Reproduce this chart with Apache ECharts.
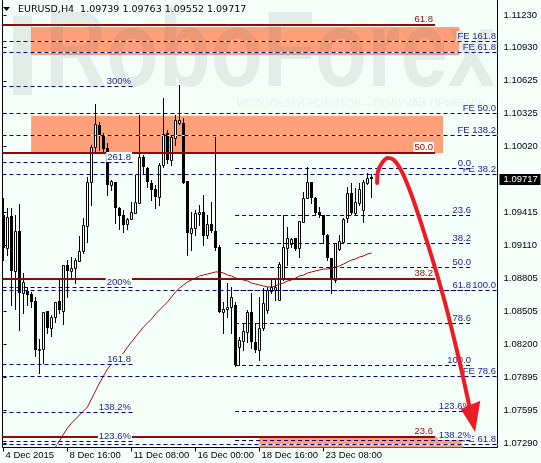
<!DOCTYPE html>
<html><head><meta charset="utf-8">
<script src="https://cdn.jsdelivr.net/npm/echarts@6/dist/echarts.min.js"></script>
<style>html,body{margin:0;padding:0;background:#F5FFFA;}#c{width:541px;height:463px;}</style>
</head><body><div id="c"></div>
<script>
// ---------- data ----------
const symbolName = 'EURUSD,H4';
const headerQuote = [1.09739, 1.09763, 1.09552, 1.09717]; // O H L C of last bar
const lastPrice = 1.09717;

const opens = [1.09390,1.09086,1.09381,1.08875,1.09243,1.08672,1.08691,1.08663,1.08599,1.08148,
1.08157,1.08507,1.08350,1.08452,1.08599,1.08507,1.08930,1.08875,1.08902,1.08967,
1.09059,1.09289,1.09694,1.10016,1.10218,1.10126,1.10006,1.09666,1.09694,1.09454,
1.09390,1.09307,1.09353,1.09408,1.09500,1.09924,1.09822,1.09684,1.09629,1.09556,
1.09850,1.10144,1.09896,1.10098,1.10236,1.10236,1.09703,1.09224,1.09270,1.09399,
1.09418,1.09206,1.09307,1.09243,1.09096,1.08498,1.08525,1.08544,1.08562,1.08176,
1.08231,1.08314,1.08498,1.08222,1.08148,1.08350,1.08516,1.08691,1.08700,1.08608,
1.08810,1.09086,1.09123,1.09178,1.09086,1.09326,1.09546,1.09694,1.09546,1.09418,
1.09390,1.09206,1.08994,1.08792,1.09077,1.09142,1.09362,1.09592,1.09408,1.09500,
1.09436,1.09684,1.09739];
const highs = [1.09546,1.09454,1.09454,1.09390,1.09491,1.08856,1.08728,1.08682,1.08636,1.08249,
1.08498,1.08507,1.08470,1.08590,1.08810,1.08930,1.08976,1.09004,1.08994,1.09197,
1.09362,1.09740,1.10034,1.10411,1.10246,1.10144,1.10052,1.09712,1.09694,1.09464,
1.09436,1.09362,1.09510,1.09758,1.10310,1.09942,1.09832,1.09712,1.09666,1.09868,
1.10466,1.10172,1.10126,1.10310,1.10586,1.10282,1.09703,1.09418,1.09436,1.09482,
1.09574,1.09390,1.09510,1.10108,1.09114,1.08590,1.08764,1.08728,1.08590,1.08268,
1.08396,1.08516,1.08672,1.08396,1.08636,1.08718,1.08728,1.08792,1.08810,1.08958,
1.09390,1.09280,1.09178,1.09178,1.09335,1.09602,1.09832,1.09694,1.09556,1.09464,
1.09390,1.09215,1.08994,1.09132,1.09206,1.09362,1.09648,1.09684,1.09638,1.09684,
1.09712,1.09776,1.09763];
const lows = [1.08976,1.09022,1.08562,1.08525,1.08332,1.08488,1.08562,1.08544,1.08093,1.07936,
1.08028,1.08304,1.08277,1.08406,1.08488,1.08387,1.08636,1.08810,1.08764,1.08967,
1.09040,1.09142,1.09482,1.09970,1.09988,1.09960,1.09574,1.09620,1.09316,1.09261,
1.09234,1.09261,1.09353,1.09408,1.09500,1.09776,1.09648,1.09528,1.09454,1.09482,
1.09832,1.09868,1.09850,1.10034,1.10227,1.09684,1.09022,1.09068,1.09206,1.09298,
1.09114,1.09178,1.09234,1.09068,1.08498,1.08304,1.08452,1.08304,1.08001,1.08010,
1.08148,1.08222,1.08166,1.08130,1.08056,1.08332,1.08488,1.08672,1.08608,1.08608,
1.08792,1.08930,1.09096,1.09068,1.09004,1.09326,1.09546,1.09500,1.09399,1.09372,
1.09132,1.08976,1.08672,1.08774,1.09068,1.09142,1.09326,1.09399,1.09399,1.09482,
1.09326,1.09675,1.09552];
const closes = [1.09086,1.09372,1.08875,1.09243,1.08672,1.08774,1.08654,1.08590,1.08148,1.08157,
1.08498,1.08350,1.08452,1.08590,1.08516,1.08930,1.08875,1.08902,1.08976,1.09059,
1.09298,1.09694,1.10016,1.10227,1.10126,1.09997,1.09666,1.09703,1.09454,1.09381,
1.09298,1.09353,1.09418,1.09510,1.09924,1.09832,1.09694,1.09620,1.09556,1.09850,
1.10135,1.09896,1.10108,1.10264,1.10264,1.09684,1.09224,1.09270,1.09408,1.09418,
1.09197,1.09307,1.09243,1.09086,1.08498,1.08525,1.08544,1.08636,1.08010,1.08240,
1.08323,1.08498,1.08222,1.08148,1.08350,1.08580,1.08700,1.08728,1.08728,1.08939,
1.09096,1.09178,1.09169,1.09077,1.09335,1.09546,1.09694,1.09546,1.09408,1.09390,
1.09206,1.08994,1.08792,1.09132,1.09151,1.09353,1.09592,1.09408,1.09510,1.09629,
1.09694,1.09735,1.09717];

const maStartBar = 11;
const maValues = [1.07118,1.07182,1.07256,1.07311,1.07375,1.07430,1.07476,1.07513,1.07550,1.07587,
1.07624,1.07697,1.07771,1.07844,1.07909,1.07973,1.08019,1.08056,1.08093,1.08120,
1.08176,1.08222,1.08268,1.08314,1.08360,1.08396,1.08433,1.08479,1.08516,1.08553,
1.08590,1.08636,1.08682,1.08718,1.08746,1.08774,1.08792,1.08810,1.08829,1.08838,
1.08847,1.08856,1.08866,1.08866,1.08856,1.08838,1.08829,1.08810,1.08801,1.08792,
1.08783,1.08764,1.08755,1.08746,1.08737,1.08728,1.08728,1.08737,1.08755,1.08764,
1.08783,1.08792,1.08810,1.08829,1.08838,1.08856,1.08866,1.08875,1.08884,1.08893,
1.08893,1.08902,1.08912,1.08921,1.08939,1.08958,1.08976,1.08985,1.09004,1.09013,
1.09031,1.09040];

const xTickBars = [0, 16, 32, 48, 64, 80];
const xTickLabels = ['4 Dec 2015','8 Dec 16:00','11 Dec 08:00','16 Dec 00:00','18 Dec 16:00','23 Dec 08:00'];
const yTickValues = [1.11230,1.10930,1.10625,1.10325,1.10020,1.09415,1.09110,1.08805,1.08505,1.08200,1.07895,1.07595,1.07290];

// axis extents (bar index, price)
const X_MIN = -0.25, X_MAX = 123.5;
const Y_MIN = 1.07251, Y_MAX = 1.113726;

// zones [barStart, barEnd, priceTop, priceBottom]
const zones = [[6.9, 113.9, 1.11120, 1.10862],[6.9, 109.9, 1.10304, 1.09960],[63.9, 114.9, 1.07348, 1.07200]];

const feLevels = [1.10991,1.10887,1.10328,1.10126,1.09767,1.08700,1.07909,1.07283];
const feLabels = ['FE 161.8','FE 61.8','FE 50.0','FE 138.2','FE 38.2','FE 100.0','FE 78.6','FE 61.8'];
const leftFibLevels = [1.10577,1.09878,1.08728,1.08019,1.07578,1.07311];
const leftFibLabels = ['300%','261.8','200%','161.8','138.2%','123.6%'];
const rightFibLevels = [1.09822,1.09390,1.09132,1.08912,1.08700,1.08396,1.08010,1.07587,1.07320];
const rightFibLabels = ['0.0','23.6','38.2','50.0','61.8','78.6','100.0','123.6%','138.2%'];
const keyLevels = [1.11138,1.09960,1.08801,1.07348];
const keyLabels = ['61.8','50.0','38.2','23.6'];
const leftFibSpan = [X_MIN, 32.4];
const rightFibSpan = [57.9, 117.4];
const keySpan = [X_MIN, 107.9];
const feSpan = [X_MIN, X_MAX];

const arrowPath = [[93.4,1.09684],[93.6,1.09786],[94.6,1.09868],[96.1,1.09914],[97.6,1.09896],[99.6,1.09786],[102.1,1.09565],[105.1,1.09234],[107.9,1.08902],[110.4,1.08580],[112.6,1.08258],[114.6,1.07946],[116.4,1.07642]];
const arrowHead = [117.9,1.07394, 114.3,1.07605, 119.2,1.07680];

// ---------- chart ----------
const BG = '#F5FFFA';
const NAVY = '#000080';
const LABEL_BLUE = '#1c1c8c';
const MAROON = '#8b0a0a';
const FONT = '"Liberation Sans", Arial, sans-serif';

const chart = echarts.init(document.getElementById('c'), null, {renderer:'canvas', width:541, height:463});

const candleData = opens.map((o,i)=>[i, o, highs[i], lows[i], closes[i]]);
const maData = maValues.map((v,i)=>[maStartBar+i, v]);

function renderCandle(params, api){
  const k=api.value(0), o=api.value(1), h=api.value(2), l=api.value(3), c=api.value(4);
  const po=api.coord([k,o]), pc=api.coord([k,c]), ph=api.coord([k,h]), pl=api.coord([k,l]);
  const cx=Math.floor(po[0])+0.5;
  const top=Math.round(Math.min(po[1],pc[1])), bot=Math.round(Math.max(po[1],pc[1]));
  const children=[{type:'line', shape:{x1:cx,y1:Math.round(ph[1]),x2:cx,y2:Math.round(pl[1])+1}, style:{stroke:'#000',lineWidth:1}}];
  if(c>o){
    children.push({type:'rect', shape:{x:cx-1,y:top+0.5,width:2,height:Math.max(bot-top,1)}, style:{fill:'#fff',stroke:'#000',lineWidth:1}});
  } else {
    children.push({type:'rect', shape:{x:cx-1.5,y:top,width:3,height:Math.max(bot-top,1)}, style:{fill:'#000'}});
  }
  return {type:'group', children};
}

function renderZone(params, api){
  const p1=api.coord([api.value(0), api.value(2)]), p2=api.coord([api.value(1), api.value(3)]);
  const r = echarts.graphic.clipRectByRect({x:p1[0],y:p1[1],width:p2[0]-p1[0],height:p2[1]-p1[1]}, {
    x:params.coordSys.x, y:params.coordSys.y, width:params.coordSys.width, height:params.coordSys.height});
  return r && {type:'rect', shape:r, style:{fill:'#FFA07A'}};
}

function levelSeries(levels, labels, span, opts, z){
  return {
    type:'custom', z, silent:true, animation:false,
    data: levels.map(p=>[span[0], span[1], p]),
    renderItem(params, api){
      const i = params.dataIndex;
      const p1=api.coord([api.value(0), api.value(2)]), p2=api.coord([api.value(1), api.value(2)]);
      const children=[];
      let y;
      if(opts.solid){
        y=Math.round(p1[1]);
        children.push({type:'line', shape:{x1:p1[0],y1:y,x2:p2[0],y2:y}, style:{stroke:MAROON,lineWidth:2}});
      } else {
        y=Math.round(p1[1])+0.5;
        const price=api.value(2);
        if(opts.underline && zones.some(zn=>price<=zn[2] && price>=zn[3])){
          children.push({type:'line', shape:{x1:p1[0],y1:y,x2:p2[0],y2:y}, style:{stroke:'#fff',lineWidth:1}});
        }
        children.push({type:'line', shape:{x1:p1[0],y1:y,x2:p2[0],y2:y}, style:{stroke:NAVY,lineWidth:1,lineDash:[4,3]}});
      }
      children.push({type:'text', x:Math.round(p2[0])-1, y:Math.round(p1[1])-(opts.solid?1:0),
        style:{text:labels[i], fill:opts.solid?MAROON:LABEL_BLUE, fontSize:9.5, fontFamily:FONT, align:'right', verticalAlign:'bottom',
          backgroundColor:BG, padding:[0,1,0,1]}});
      return {type:'group', children};
    }
  };
}

const option = {
  backgroundColor: BG,
  animation: false,
  grid: {left:2.5, top:-0.5, right:43.5, bottom:15.5, show:true, borderColor:'#000', borderWidth:1, backgroundColor:BG, containLabel:false, outerBoundsMode:'none'},
  xAxis: {
    type:'value', min:X_MIN, max:X_MAX,
    axisLine:{show:false}, splitLine:{show:false},
    axisTick:{show:true, customValues:xTickBars, length:4, lineStyle:{color:'#000'}},
    axisLabel:{show:true, customValues:xTickBars, formatter:v=>xTickLabels[xTickBars.indexOf(Math.round(v))]||'',
      align:'left', margin:3, padding:[0,0,0,2], color:'#000', fontSize:9.5, fontFamily:FONT}
  },
  yAxis: {
    type:'value', position:'right', min:Y_MIN, max:Y_MAX, scale:true,
    axisLine:{show:false}, splitLine:{show:false},
    axisTick:{show:true, customValues:yTickValues, length:3, lineStyle:{color:'#000'}},
    axisLabel:{show:true, customValues:yTickValues, formatter:v=>v.toFixed(5), margin:6, color:'#000', fontSize:9.5, fontFamily:FONT}
  },
  series: [
    {type:'custom', z:1, silent:true, data:zones, renderItem:renderZone},
    {type:'custom', z:2, silent:true, clip:true, data:candleData, renderItem:renderCandle},
    {type:'line', z:3, silent:true, data:maData, showSymbol:false, clip:true, lineStyle:{color:'#9a1010', width:1}},
    levelSeries(keyLevels, keyLabels, keySpan, {solid:true}, 4),
    levelSeries(feLevels, feLabels, feSpan, {underline:true}, 5),
    levelSeries(leftFibLevels, leftFibLabels, leftFibSpan, {}, 6),
    levelSeries(rightFibLevels, rightFibLabels, rightFibSpan, {}, 7),
    {type:'line', z:8, silent:true, data:arrowPath, smooth:0.3, showSymbol:false, clip:false,
      lineStyle:{color:'#ED1C24', width:4, cap:'round', join:'round'}},
    {type:'custom', z:8, silent:true, data:[arrowHead], renderItem(params, api){
      const pts=[0,2,4].map(j=>api.coord([api.value(j), api.value(j+1)]));
      return {type:'polygon', shape:{points:pts}, style:{fill:'#ED1C24'}};
    }},
    {type:'custom', z:9, silent:true, clip:false, data:[[X_MAX, lastPrice]], renderItem(params, api){
      const p=api.coord([api.value(0), api.value(1)]);
      const y=Math.round(p[1]);
      return {type:'group', children:[
        {type:'rect', shape:{x:p[0]+2, y:y-5, width:41, height:11}, style:{fill:'#000'}},
        {type:'text', x:p[0]+6, y:y+0.5, style:{text:api.value(1).toFixed(5), fill:'#fff', fontSize:9.5, fontFamily:FONT, verticalAlign:'middle'}}
      ]};
    }}
  ],
  graphic: [
    {type:'polygon', silent:true, z:50, shape:{points:[[3,7],[10,7],[6.5,11]]}, style:{fill:'#000'}},
    {type:'text', silent:true, z:50, x:18, y:10, style:{text:symbolName+'  '+headerQuote.map(v=>v.toFixed(5)).join(' '), fill:'#000', fontSize:9.5, fontFamily:'"DejaVu Sans", sans-serif', verticalAlign:'middle'}},
    {type:'rect', silent:true, z:100, shape:{x:13, y:16, width:19, height:79}, style:{fill:'rgba(90,100,100,0.12)'}},
    {type:'text', silent:true, z:100, x:45, y:56, scaleX:0.79, style:{text:'RoboForex', fontSize:108, fontWeight:'bold', fontFamily:FONT, fill:'rgba(90,100,100,0.12)', verticalAlign:'middle'}},
    {type:'text', silent:true, z:100, x:237, y:104, style:{text:'ИСПОЛЬЗУЙ РОБОТОВ – ПОЛУЧАЙ ПРИБЫЛЬ', fontSize:11, fontFamily:FONT, fill:'rgba(90,100,100,0.09)', verticalAlign:'middle'}}
  ]
};
chart.setOption(option);
</script>
</body></html>
